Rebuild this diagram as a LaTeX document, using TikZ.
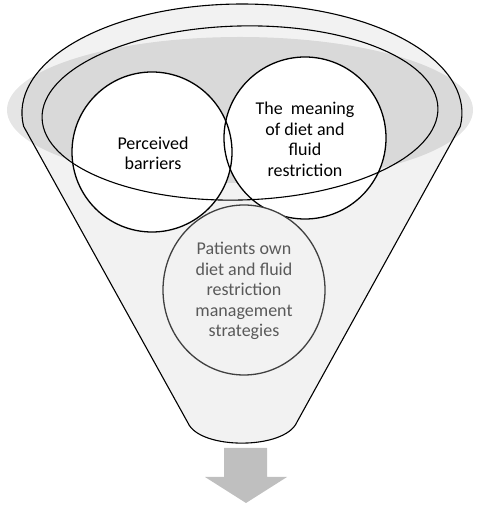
\documentclass[tikz,border=0pt]{standalone}
\usepackage{fontspec}
\setmainfont{Carlito}
\begin{document}
\begin{tikzpicture}[x=1pt,y=1pt,
  funnelstyle/.style={draw=black,line width=1.1pt,fill=funnelgray},
  bandstyle/.style={fill=black,fill opacity=0.1,draw=none},
  ringline/.style={draw=black,line width=1.1pt},
  topcircle/.style={draw=black,line width=1.3pt},
  botcircle/.style={draw=circlegray,line width=1.3pt,fill=funnelgray},
  toptext/.style={align=center,font=\fontsize{18}{20.5}\selectfont,text=black,inner sep=0pt},
  bottext/.style={align=center,font=\fontsize{18}{20.5}\selectfont,text=textgray,inner sep=0pt},
  arrowstyle/.style={fill=arrowgray,draw=none}]
\definecolor{funnelgray}{HTML}{F2F2F2}
\definecolor{circlegray}{HTML}{404040}
\definecolor{textgray}{HTML}{595959}
\definecolor{arrowgray}{HTML}{BFBFBF}
\useasboundingbox (0,0) rectangle (479,506);
% funnel body
\coordinate (bl) at (23.6,379.7);
\coordinate (cr) at (297,84);
\coordinate (cl) at (188,83);
\path[funnelstyle] (bl) arc[start angle=187,end angle=-7,x radius=220,y radius=109]
  -- (cr) .. controls (285,56) and (200,56) .. (cl) -- cycle;
% gray band
\path[bandstyle] (240,396) ellipse[x radius=233,y radius=73];
% top circle fills
\fill[white] (152,354) circle[radius=80];
\fill[white] (305,368) circle[radius=81];
% inner ellipse line
\draw[ringline,rotate around={1.5:(240,393)}] (240,393) ellipse[x radius=198,y radius=87];
% top circle outlines
\draw[topcircle] (152,354) circle[radius=80];
\draw[topcircle] (305,368) circle[radius=81];
% bottom circle
\path[botcircle] (244,216) ellipse[x radius=81,y radius=85];
% texts
\node[toptext] (barriers) at (153,352.5) {Perceived\\barriers};
\node[toptext] (meaning) at (305,366.5) {The\ \ meaning\\of diet and\\fluid\\restriction};
\node[bottext] (strategies) at (244,215) {Patients own\\diet and fluid\\restriction\\management\\strategies};
% arrow
\path[arrowstyle] (224,58) -- (267,58) -- (267,29) -- (287,29) -- (246,3) -- (205,29) -- (224,29) -- cycle;
\end{tikzpicture}
\end{document}
